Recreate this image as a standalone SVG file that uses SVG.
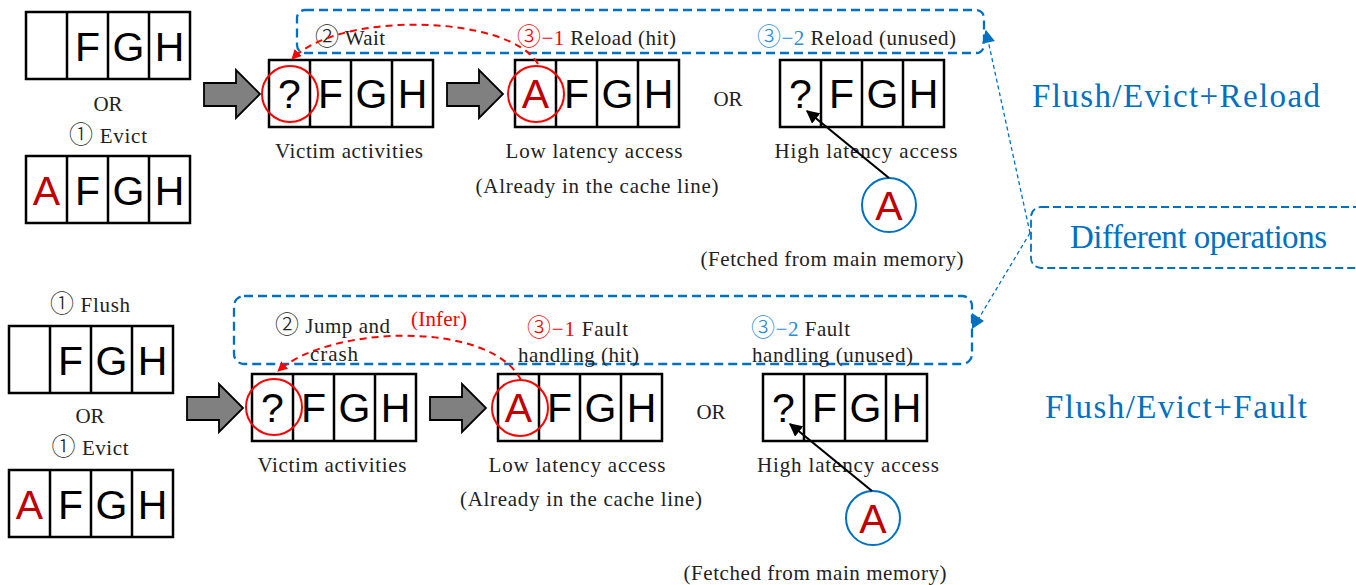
<svg xmlns="http://www.w3.org/2000/svg" width="1356" height="585" viewBox="0 0 1356 585">
  <style>
    .cell { fill: #fff; stroke: #000; stroke-width: 2.5; }
    .div { stroke: #000; stroke-width: 2.5; }
    .ch { font-family: "Liberation Sans", Arial, sans-serif; font-size: 41px; text-anchor: middle; fill: #000; }
    .ar { fill: #C00000; }
    .lbl { font-family: "Liberation Serif", "Noto Sans CJK JP", serif; font-size: 21px; fill: #222; }
    .cd { font-family: "Noto Sans CJK JP", "DejaVu Sans", sans-serif; font-weight: 300; font-size: 24px; }
    .mid { text-anchor: middle; }
    .red { fill: #FF0000; }
    .lblue { fill: #2A8ADB; }
    .big { font-family: "Liberation Serif", "Noto Sans CJK JP", serif; font-size: 33px; fill: #0070C0; }
    .grp { fill: none; stroke: #0070C0; stroke-width: 2.3; stroke-dasharray: 9 5; }
    .note { fill: none; stroke: #0070C0; stroke-width: 1.8; stroke-dasharray: 8 4; }
    .link { fill: none; stroke: #0070C0; stroke-width: 1.3; stroke-dasharray: 4 3; }
    .blk { fill: #808080; stroke: #000; stroke-width: 1.8; }
    .hit { fill: none; stroke: #FF0000; stroke-width: 2; }
    .mem { fill: #fff; stroke: #0070C0; stroke-width: 2; }
    .infer { fill: none; stroke: #FF0000; stroke-width: 2; stroke-dasharray: 7 5; }
    .fetch { fill: none; stroke: #000; stroke-width: 2.2; }
  </style>
  <defs>
    <marker id="redHead" viewBox="0 0 10 10" refX="9" refY="5" markerWidth="5" markerHeight="5" orient="auto" markerUnits="strokeWidth">
      <path d="M0,0 L10,5 L0,10 z" fill="#FF0000"/>
    </marker>
    <marker id="blackHead" viewBox="0 0 10 10" refX="9" refY="5" markerWidth="6" markerHeight="6" orient="auto" markerUnits="strokeWidth">
      <path d="M0,0 L10,5 L0,10 z" fill="#000"/>
    </marker>
    <marker id="blueHead" viewBox="0 0 10 10" refX="9" refY="5" markerWidth="11" markerHeight="10" orient="auto" markerUnits="strokeWidth">
      <path d="M0,0 L10,5 L0,10 z" fill="#0070C0"/>
    </marker>
    <g id="line4">
      <rect class="cell" x="0" y="0" width="164" height="67"/>
      <line class="div" x1="41" y1="0" x2="41" y2="67"/>
      <line class="div" x1="82" y1="0" x2="82" y2="67"/>
      <line class="div" x1="123" y1="0" x2="123" y2="67"/>
    </g>
  </defs>

  <!-- group frames for the attack phases -->
  <g id="phase-reload">
    <rect class="grp" x="297" y="10" width="687" height="43" rx="8"/>
  </g>
  <g id="phase-fault">
    <rect class="grp" x="234" y="296" width="738" height="68" rx="10"/>
  </g>

  <!-- ===== Flush/Evict+Reload row ===== -->
  <g id="reload-init-flush">
    <use href="#line4" x="26" y="12"/>
    <text class="ch" x="87.5" y="61">F</text>
    <text class="ch" x="128.5" y="61">G</text>
    <text class="ch" x="169.5" y="61">H</text>
  </g>
  <g id="reload-or">
    <text class="lbl mid" x="108" y="111">OR</text>
    <text class="lbl mid" x="108" y="143" textLength="78"><tspan class="cd">①</tspan> Evict</text>
  </g>
  <g id="reload-init-evict">
    <use href="#line4" x="26" y="156"/>
    <text class="ch ar" x="46.5" y="205">A</text>
    <text class="ch" x="87.5" y="205">F</text>
    <text class="ch" x="128.5" y="205">G</text>
    <text class="ch" x="169.5" y="205">H</text>
  </g>
  <g id="reload-step1">
    <polygon class="blk" points="204,83 236,83 236,70 260,94 236,118 236,106 204,106"/>
  </g>
  <g id="reload-victim">
    <use href="#line4" x="269" y="60"/>
    <text class="ch" x="289.5" y="108">?</text>
    <text class="ch" x="330.5" y="108">F</text>
    <text class="ch" x="371.5" y="108">G</text>
    <text class="ch" x="412.5" y="108">H</text>
    <circle class="hit" cx="290" cy="94" r="28"/>
    <text class="lbl" x="315" y="45" textLength="70"><tspan class="cd">②</tspan> Wait</text>
    <text class="lbl mid" x="349" y="158" textLength="148">Victim activities</text>
  </g>
  <g id="reload-step2">
    <polygon class="blk" points="447,83 479,83 479,70 503,94 479,118 479,106 447,106"/>
  </g>
  <g id="reload-hit">
    <use href="#line4" x="515" y="60"/>
    <text class="ch ar" x="535.5" y="108">A</text>
    <text class="ch" x="576.5" y="108">F</text>
    <text class="ch" x="617.5" y="108">G</text>
    <text class="ch" x="658.5" y="108">H</text>
    <circle class="hit" cx="536" cy="94" r="28"/>
    <text class="lbl" x="517" y="45" textLength="159"><tspan class="red"><tspan class="cd">③</tspan>−1</tspan> Reload (hit)</text>
    <text class="lbl mid" x="594" y="158" textLength="177">Low latency access</text>
    <text class="lbl mid" x="597" y="193" textLength="243">(Already in the cache line)</text>
  </g>
  <text class="lbl mid" x="728" y="106">OR</text>
  <g id="reload-miss">
    <use href="#line4" x="780" y="60"/>
    <text class="ch" x="800.5" y="108">?</text>
    <text class="ch" x="841.5" y="108">F</text>
    <text class="ch" x="882.5" y="108">G</text>
    <text class="ch" x="923.5" y="108">H</text>
    <text class="lbl" x="757" y="45" textLength="199"><tspan class="lblue"><tspan class="cd">③</tspan>−2</tspan> Reload (unused)</text>
    <text class="lbl mid" x="866" y="158" textLength="183">High latency access</text>
  </g>
  <g id="reload-memory">
    <circle class="mem" cx="889" cy="205" r="27"/>
    <text class="ch ar" x="889" y="220">A</text>
    <text class="lbl mid" x="832" y="266" textLength="263">(Fetched from main memory)</text>
  </g>

  <!-- ===== Flush/Evict+Fault row ===== -->
  <g id="fault-init-flush">
    <text class="lbl mid" x="90" y="312" textLength="80"><tspan class="cd">①</tspan> Flush</text>
    <use href="#line4" x="9" y="326"/>
    <text class="ch" x="70.5" y="375">F</text>
    <text class="ch" x="111.5" y="375">G</text>
    <text class="ch" x="152.5" y="375">H</text>
  </g>
  <g id="fault-or">
    <text class="lbl mid" x="90" y="423">OR</text>
    <text class="lbl mid" x="90" y="455" textLength="77"><tspan class="cd">①</tspan> Evict</text>
  </g>
  <g id="fault-init-evict">
    <use href="#line4" x="9" y="470"/>
    <text class="ch ar" x="29.5" y="519">A</text>
    <text class="ch" x="70.5" y="519">F</text>
    <text class="ch" x="111.5" y="519">G</text>
    <text class="ch" x="152.5" y="519">H</text>
  </g>
  <g id="fault-step1">
    <polygon class="blk" points="187,397 219,397 219,384 243,408 219,432 219,420 187,420"/>
  </g>
  <g id="fault-victim">
    <use href="#line4" x="252" y="374"/>
    <text class="ch" x="272.5" y="422">?</text>
    <text class="ch" x="313.5" y="422">F</text>
    <text class="ch" x="354.5" y="422">G</text>
    <text class="ch" x="395.5" y="422">H</text>
    <circle class="hit" cx="274" cy="407" r="28"/>
    <text class="lbl" x="275" y="333" textLength="115"><tspan class="cd">②</tspan> Jump and</text>
    <text class="lbl" x="310" y="361" textLength="48">crash</text>
    <text class="lbl mid" x="332" y="472" textLength="149">Victim activities</text>
  </g>
  <text class="lbl red" x="411" y="326" textLength="56">(Infer)</text>
  <g id="fault-step2">
    <polygon class="blk" points="430,397 462,397 462,384 486,408 462,432 462,420 430,420"/>
  </g>
  <g id="fault-hit">
    <use href="#line4" x="498" y="374"/>
    <text class="ch ar" x="518.5" y="422">A</text>
    <text class="ch" x="559.5" y="422">F</text>
    <text class="ch" x="600.5" y="422">G</text>
    <text class="ch" x="641.5" y="422">H</text>
    <circle class="hit" cx="520" cy="408" r="28"/>
    <text class="lbl" x="527" y="336" textLength="101"><tspan class="red"><tspan class="cd">③</tspan>−1</tspan> Fault</text>
    <text class="lbl" x="518" y="362" textLength="121">handling (hit)</text>
    <text class="lbl mid" x="577" y="472" textLength="177">Low latency access</text>
    <text class="lbl mid" x="581" y="506" textLength="242">(Already in the cache line)</text>
  </g>
  <text class="lbl mid" x="711" y="419">OR</text>
  <g id="fault-miss">
    <use href="#line4" x="763" y="374"/>
    <text class="ch" x="783.5" y="422">?</text>
    <text class="ch" x="824.5" y="422">F</text>
    <text class="ch" x="865.5" y="422">G</text>
    <text class="ch" x="906.5" y="422">H</text>
    <text class="lbl" x="751" y="336" textLength="99"><tspan class="lblue"><tspan class="cd">③</tspan>−2</tspan> Fault</text>
    <text class="lbl" x="752" y="362" textLength="161">handling (unused)</text>
    <text class="lbl mid" x="848" y="472" textLength="182">High latency access</text>
  </g>
  <g id="fault-memory">
    <circle class="mem" cx="873" cy="518" r="27"/>
    <text class="ch ar" x="873" y="533">A</text>
    <text class="lbl mid" x="815" y="580" textLength="263">(Fetched from main memory)</text>
  </g>

  <!-- ===== titles and note ===== -->
  <g id="title-reload">
    <text class="big" x="1032" y="107" textLength="288">Flush/Evict+Reload</text>
  </g>
  <g id="title-fault">
    <text class="big" x="1045" y="418" textLength="262">Flush/Evict+Fault</text>
  </g>
  <g id="note-diff">
    <rect class="note" x="1031" y="207" width="345" height="61" rx="10"/>
    <text class="big" x="1070" y="248" font-size="31" textLength="257">Different operations</text>
  </g>

  <!-- ===== connectors ===== -->
  <g id="connectors">
    <path class="infer" d="M538,64 C510,15 340,10 292,59" marker-end="url(#redHead)"/>
    <path class="infer" d="M521,380 C490,320 330,325 278,371" marker-end="url(#redHead)"/>
    <line class="fetch" x1="889" y1="178" x2="807" y2="111" marker-end="url(#blackHead)"/>
    <line class="fetch" x1="872" y1="491" x2="790" y2="424" marker-end="url(#blackHead)"/>
    <line class="link" x1="1030" y1="233" x2="986" y2="31" marker-end="url(#blueHead)"/>
    <line class="link" x1="1030" y1="233" x2="979" y2="318"/>
    <polygon points="972,313 984,321 972,329" fill="#0070C0"/>
  </g>
</svg>
